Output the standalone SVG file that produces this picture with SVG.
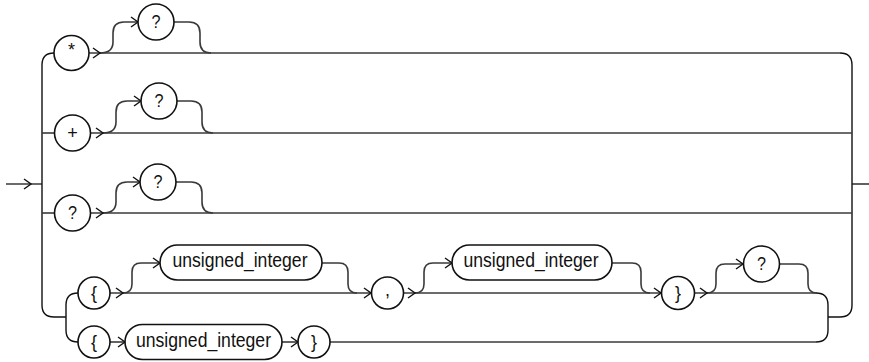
<svg xmlns="http://www.w3.org/2000/svg" xmlns:xlink="http://www.w3.org/1999/xlink" width="869" height="362" viewBox="0 0 869 362">
<style>
.ln{fill:none;stroke:#3a3a3a;stroke-width:1.6}
.rl{fill:none;stroke:#111;stroke-width:1.4}
.nd{fill:#fff;stroke:#111;stroke-width:1.6}
.tx{font-family:"Liberation Sans",Arial,sans-serif;font-size:18px;fill:#111;text-anchor:middle}
.ui{font-size:20px}
.ah{fill:none;stroke:#111;stroke-width:1.4}
</style>
<defs>
<path id="ah" class="ah" d="M-7,-5 L0,0 L-7,5"/>
</defs>
<rect width="869" height="362" fill="#fff"/>
<g id="connectors">
<path class="ln" d="M6,184 H42"/>
<path class="ln" d="M852,184 H869"/>
<path class="rl" d="M54,53 Q42,53 42,65 V305 Q42,317 54,317 H66"/>
<path class="ln" d="M42,133 H54"/>
<path class="ln" d="M42,213 H54"/>
<path class="rl" d="M78,293 Q66,293 66,305 V330 Q66,342 78,342"/>
<path class="rl" d="M840,53 Q852,53 852,65 V305 Q852,317 840,317 H828"/>
<path class="rl" d="M816,293 Q828,293 828,305 V330 Q828,342 816,342"/>
<path class="ln" d="M89,53 H840"/>
<path class="ln" d="M100,53 Q113,53 113,42 V33 Q113,22 124,22 H138"/>
<path class="ln" d="M174,22 H189 Q200,22 200,33 V42 Q200,53 211,53"/>
<path class="ln" d="M90,133 H852"/>
<path class="ln" d="M103,133 Q116,133 116,122 V112 Q116,101 127,101 H141"/>
<path class="ln" d="M177,101 H191 Q202,101 202,112 V122 Q202,133 213,133"/>
<path class="ln" d="M90,213 H852"/>
<path class="ln" d="M103,213 Q116,213 116,202 V193 Q116,182 127,182 H140"/>
<path class="ln" d="M176,182 H191 Q202,182 202,193 V202 Q202,213 213,213"/>
<path class="ln" d="M110,293 H371"/>
<path class="ln" d="M403,293 H661"/>
<path class="ln" d="M695,293 H816"/>
<path class="ln" d="M123,293 Q132,293 132,284 V272 Q132,263 141,263 H160"/>
<path class="ln" d="M322,263 H339 Q348,263 348,272 V284 Q348,293 357,293"/>
<path class="ln" d="M415,293 Q424,293 424,284 V272 Q424,263 433,263 H452"/>
<path class="ln" d="M612,263 H632 Q641,263 641,272 V284 Q641,293 650,293"/>
<path class="ln" d="M707,293 Q716,293 716,284 V273 Q716,264 725,264 H743"/>
<path class="ln" d="M780,264 H799 Q808,264 808,273 V284 Q808,293 817,293"/>
<path class="ln" d="M110,342 H125"/>
<path class="ln" d="M282,342 H298"/>
<path class="ln" d="M330,342 H816"/>
<use xlink:href="#ah" x="31" y="184"/>
<use xlink:href="#ah" x="100" y="53"/>
<use xlink:href="#ah" x="138" y="22"/>
<use xlink:href="#ah" x="103" y="133"/>
<use xlink:href="#ah" x="141" y="101"/>
<use xlink:href="#ah" x="103" y="213"/>
<use xlink:href="#ah" x="140" y="182"/>
<use xlink:href="#ah" x="123" y="293"/>
<use xlink:href="#ah" x="160" y="263"/>
<use xlink:href="#ah" x="371" y="293"/>
<use xlink:href="#ah" x="415" y="293"/>
<use xlink:href="#ah" x="452" y="263"/>
<use xlink:href="#ah" x="661" y="293"/>
<use xlink:href="#ah" x="707" y="293"/>
<use xlink:href="#ah" x="743" y="264"/>
<use xlink:href="#ah" x="125" y="342"/>
<use xlink:href="#ah" x="298" y="342"/>
</g>
<g id="star"><circle class="nd" cx="71.5" cy="53" r="17.5"/><text class="tx" x="71.5" y="56">*</text></g>
<g id="q1"><circle class="nd" cx="156" cy="22" r="18"/><text class="tx" x="156" y="28" textLength="9" lengthAdjust="spacingAndGlyphs">?</text></g>
<g id="plus"><circle class="nd" cx="72.5" cy="133" r="18"/><text class="tx" x="72.5" y="139">+</text></g>
<g id="q2"><circle class="nd" cx="159" cy="101" r="18"/><text class="tx" x="159" y="107" textLength="9" lengthAdjust="spacingAndGlyphs">?</text></g>
<g id="q3"><circle class="nd" cx="72.5" cy="213" r="18"/><text class="tx" x="72.5" y="219" textLength="9" lengthAdjust="spacingAndGlyphs">?</text></g>
<g id="q4"><circle class="nd" cx="158" cy="182" r="18"/><text class="tx" x="158" y="188" textLength="9" lengthAdjust="spacingAndGlyphs">?</text></g>
<g id="lbrace1"><circle class="nd" cx="94" cy="293" r="16"/><text class="tx" x="94" y="299">{</text></g>
<g id="uint1"><rect class="nd" x="160" y="245" width="162" height="35" rx="17.5"/><text class="tx ui" x="240" y="267" textLength="135" lengthAdjust="spacingAndGlyphs">unsigned_integer</text></g>
<g id="comma"><circle class="nd" cx="387.5" cy="293" r="16"/><text class="tx" x="387.5" y="296">,</text></g>
<g id="uint2"><rect class="nd" x="452" y="245" width="160" height="35" rx="17.5"/><text class="tx ui" x="531" y="267" textLength="135" lengthAdjust="spacingAndGlyphs">unsigned_integer</text></g>
<g id="rbrace1"><circle class="nd" cx="678" cy="293" r="16.5"/><text class="tx" x="678" y="299">}</text></g>
<g id="q5"><circle class="nd" cx="761.5" cy="264" r="18"/><text class="tx" x="761.5" y="270" textLength="9" lengthAdjust="spacingAndGlyphs">?</text></g>
<g id="lbrace2"><circle class="nd" cx="94" cy="342" r="16"/><text class="tx" x="94" y="348">{</text></g>
<g id="uint3"><rect class="nd" x="125" y="324.5" width="157" height="35" rx="17.5"/><text class="tx ui" x="203.5" y="347" textLength="135" lengthAdjust="spacingAndGlyphs">unsigned_integer</text></g>
<g id="rbrace2"><circle class="nd" cx="314" cy="342" r="16"/><text class="tx" x="314" y="348">}</text></g>
</svg>
